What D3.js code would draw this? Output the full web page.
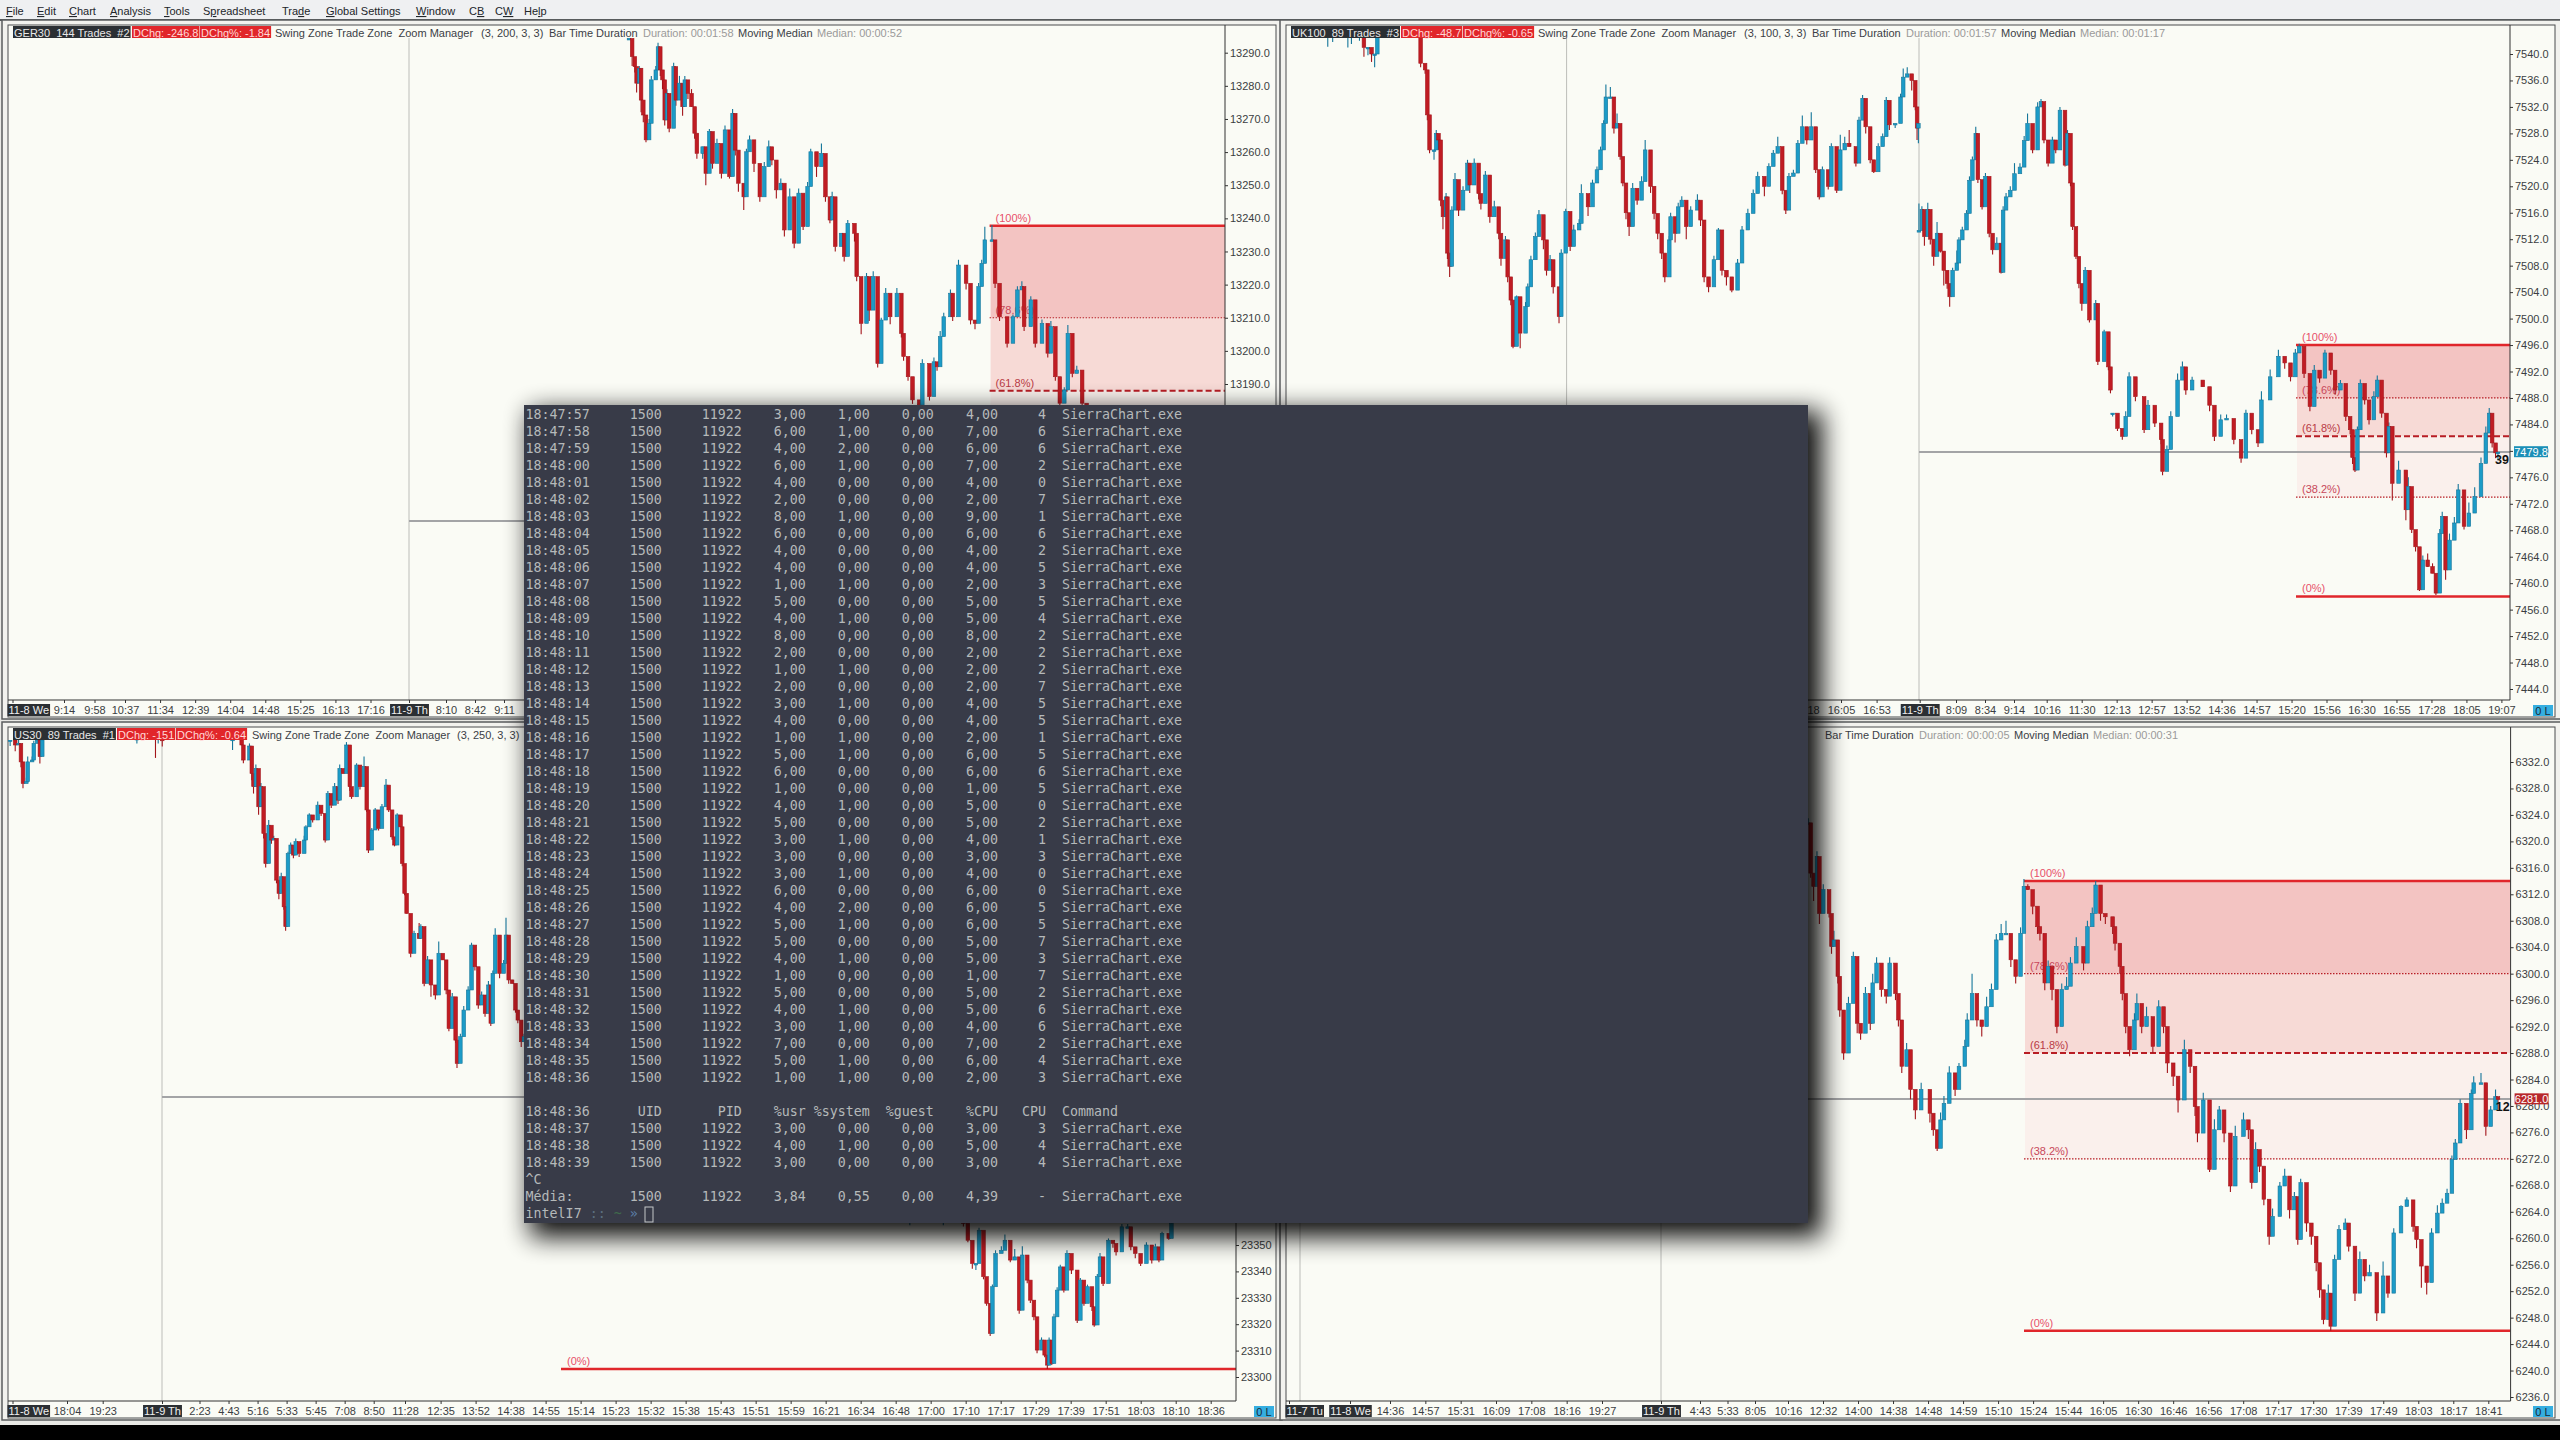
<!DOCTYPE html>
<html>
<head>
<meta charset="utf-8">
<script src="https://cdnjs.cloudflare.com/ajax/libs/d3/7.8.5/d3.min.js"></script>
<style>
html,body{margin:0;padding:0;background:#000}
svg{display:block}
text{font-family:"Liberation Sans",sans-serif;font-size:11px;white-space:pre}
.term text{font-family:"DejaVu Sans Mono",monospace;font-size:13.3px;white-space:pre}
</style>
</head>
<body>
<div id="chart"></div>
<script>
// candle rows are [bar, close, wick tip]; open is always the previous close
const menuItems = ["File","Edit","Chart","Analysis","Tools","Spreadsheet","Trade","Global Settings","Window","CB","CW","Help"];
const menuKeys = [0,0,0,0,0,1,3,0,0,1,1,2];

const gerTicks = [13290,13280,13270,13260,13250,13240,13230,13220,13210,13200,13190];
const gerFib = [["(100%)",13237.8],["(78.6%)",13210],["(61.8%)",13188]];
const gerTimes = ["11-8 We","9:14","9:58","10:37","11:34","12:39","14:04","14:48","15:25","16:13","17:16","11-9 Th","8:10","8:42","9:11"];
const gerBars = [[65,13294.3,13296],[72,13288.8,13286],[78,13285.8,13284],[82,13280.8,13278],[88,13285.3,13286],[92,13275.7,13272],[97,13271.2,13269],[103,13263.7,13263],[110,13268.7,13270],[115,13281.8,13283],[125,13284.8,13286],[130,13291.8,13293],[135,13284.8,13283],[140,13281.8,13279],[145,13269.7,13268],[150,13277.7,13279],[155,13267.2,13266],[165,13285.8,13287],[170,13275.7,13274],[178,13280.8,13283],[185,13273.7,13271],[190,13281.8,13283],[197,13277.7,13276],[205,13273.7,13279],[212,13265.7,13264],[217,13259.6,13258],[230,13261.6,13258],[237,13253.6,13250],[245,13266.2,13267],[252,13256.6,13255],[262,13262.6,13264],[272,13253.6,13252],[280,13266.7,13268],[290,13252.6,13252],[297,13271.7,13273],[303,13260.6,13259],[310,13250.6,13248],[322,13246.5,13242.5],[328,13260.1,13261],[335,13263.7,13265],[345,13256.6,13254],[358,13246.5,13245],[368,13255.6,13257],[378,13261.6,13263.5],[385,13257.6,13256],[395,13248.6,13246],[405,13250.6,13252],[413,13236.5,13234.5],[425,13246.5,13249],[435,13232.5,13231],[445,13247.6,13249],[455,13237.5,13236.5],[465,13249.6,13251],[472,13260.1,13261],[485,13255.6,13252.5],[496,13259.6,13262.6],[505,13246.5,13245],[515,13239.5,13238.5],[520,13246.5,13248],[527,13231.5,13230],[540,13235.5,13234],[547,13228.5,13227],[555,13238.5,13239.5],[570,13235.5,13233],[575,13222.4,13221],[585,13208.3,13205],[597,13222.4,13223.5],[603,13212.3,13209],[612,13222.4,13224],[622,13196.2,13195],[630,13209.3,13210],[640,13217.4,13219],[650,13210.3,13208],[665,13217.4,13219],[675,13205.3,13204],[680,13198.3,13197],[690,13192.2,13191],[700,13185.2,13184],[715,13183.7,13182],[722,13196.2,13197.5],[738,13186.2,13185],[748,13196.7,13198],[755,13195.2,13194],[762,13204.3,13206],[770,13210.3,13211.5],[785,13217.4,13218.5],[790,13210.3,13209],[803,13225.9,13227.5],[820,13220.4,13218.5],[830,13209.3,13208],[840,13208.3,13206.5],[848,13219.4,13220.5],[855,13226.4,13227.5],[862,13233.5,13237.5],[878,13233.5,13238],[885,13220.4,13219],[895,13210.3,13209],[912,13202.3,13201],[925,13210.3,13211],[935,13218.4,13219.5],[945,13219.4,13221],[950,13207.3,13206],[965,13215.4,13216.5],[975,13202.3,13201],[990,13208.3,13209.5],[1003,13199.3,13198],[1010,13207.3,13209],[1020,13192.2,13191],[1030,13184.2,13183],[1040,13188.2,13189],[1048,13205.3,13207.8],[1058,13193.2,13192],[1068,13194.2,13195.5],[1080,13184.2,13183],[1090,13183.7,13182]];

const ukTicks = [7540,7536,7532,7528,7524,7520,7516,7512,7508,7504,7500,7496,7492,7488,7484,7480,7476,7472,7468,7464,7460,7456,7452,7448,7444];
const ukFib = [["(100%)",7496],["(78.6%)",7488],["(61.8%)",7482.2],["(38.2%)",7473],["(0%)",7458]];
const ukTimes = ["15:18","16:05","16:53","11-9 Th","8:09","8:34","9:14","10:16","11:30","12:13","12:57","13:52","14:36","14:57","15:20","15:56","16:30","16:55","17:28","18:05","19:07"];
const ukBarsA = [[107,7543,7541.1],[118,7543,7541.8],[152,7543,7541],[160,7543,7541.5],[178,7543,7542],[188,7541,7539.6],[197,7541,7539.8],[205,7540,7538.8],[212,7540,7538],[218,7544,7542],[222,7545,7542.5],[310,7543,7543],[315,7538.6,7538],[325,7537.6,7537],[330,7530.8,7530],[335,7525.5,7525],[345,7525.5,7524],[350,7528,7528.5],[355,7527,7525.5],[360,7517.9,7517],[365,7515.4,7513.5],[372,7518.4,7519],[375,7509.9,7509],[380,7507.9,7506.3],[385,7516.4,7517],[392,7521,7522],[400,7516.4,7515.5],[410,7519.4,7520],[420,7523.5,7524],[425,7520.2,7519],[435,7523.5,7524.2],[445,7518.9,7518],[450,7517.4,7516.5],[460,7521.7,7522.3],[470,7515.4,7514.5],[480,7516.9,7517.8],[490,7512.9,7512],[495,7509.1,7508],[505,7511.9,7512.5],[510,7506.3,7505.5],[517,7502.8,7502],[522,7495.8,7495.5],[530,7503.3,7503.5],[538,7497.8,7495.5],[550,7501.8,7502.5],[555,7504.8,7505.3],[562,7508.9,7509.5],[572,7512.4,7513],[580,7515.7,7516.4],[590,7511.9,7510.5],[597,7507.3,7506.5],[605,7508.9,7509.6],[612,7504.8,7503.8],[625,7500.3,7499.3],[630,7509.9,7510.5],[640,7516.2,7516.6],[650,7510.9,7510.2],[658,7513.4,7514.2],[670,7514.4,7515],[675,7518.9,7520.3],[690,7516.9,7515.5],[700,7520.5,7521],[710,7522.5,7523],[718,7525.5,7526],[725,7529.5,7530],[730,7533.5,7535.4],[740,7533.5,7535],[748,7528.8,7528],[755,7529.5,7531],[762,7524.5,7524],[768,7520.5,7520],[775,7516,7515],[782,7513.9,7512.5],[790,7519.7,7520.5],[800,7517.9,7517.2],[810,7520.7,7521.5],[818,7525.5,7527],[830,7520,7519],[838,7515.9,7515],[846,7512.9,7512],[855,7509.9,7509],[862,7506.3,7505.5],[872,7511.9,7512.5],[875,7515.4,7516],[885,7512.9,7511.5],[892,7516.9,7517.5],[900,7517.9,7518.5],[910,7513.9,7512],[920,7516.4,7517],[935,7517.9,7518.8],[942,7514.9,7514],[950,7506.3,7505.5],[960,7504.8,7504],[972,7508.9,7509.5],[982,7513.4,7513.7],[990,7507.3,7506.5],[1000,7506.3,7505],[1012,7504.3,7504],[1025,7508.4,7509],[1035,7513.4,7514],[1048,7515.9,7516.6],[1060,7518.9,7519.5],[1070,7521.5,7522.2],[1085,7520,7518.5],[1095,7523,7523.5],[1105,7525,7525.5],[1115,7526,7527.5],[1125,7519.4,7518.8],[1133,7516.4,7515.8],[1140,7521.5,7522],[1150,7522,7522.5],[1160,7526.5,7527],[1170,7529,7530.7],[1180,7527,7526.3],[1190,7529,7531.2],[1200,7522.5,7522],[1208,7518.4,7518],[1215,7522.5,7523],[1228,7520,7519.5],[1235,7526,7526.5],[1247,7519.4,7519],[1255,7525.5,7527.8],[1265,7526.5,7527.5],[1275,7526,7528.5],[1290,7523.5,7523],[1297,7530,7530.5],[1305,7533.3,7533.8],[1312,7529,7528],[1322,7524,7523.5],[1330,7522.2,7522],[1340,7526,7526.5],[1350,7527.5,7528],[1358,7533,7533.5],[1365,7529.3,7528.5],[1378,7529.5,7528.8],[1390,7533.5,7534],[1396,7536.5,7537.8],[1405,7537,7538],[1415,7536,7534.5],[1423,7532,7531.5],[1427,7528.8,7527],[1430,7529.5,7526.5]];
const ukBarsB = [[45,7513.3,7517.4],[52,7516.5,7517],[58,7512.4,7511],[66,7516.5,7517.5],[72,7512,7511.2],[80,7509.4,7508],[88,7512.9,7514.6],[96,7510.2,7510],[104,7507.3,7505],[112,7505.3,7504.5],[118,7503.3,7501.8],[125,7507.3,7507.7],[135,7508.4,7510.3],[140,7511.9,7512.3],[148,7513.4,7513.9],[158,7515.9,7516.4],[165,7520.9,7521.5],[172,7524,7524.5],[180,7528,7529],[185,7521,7520.5],[195,7516.9,7516.5],[203,7521.5,7522],[212,7512.9,7512.3],[220,7510.4,7509.7],[230,7511.4,7512.3],[240,7507,7506.8],[245,7516.4,7517],[252,7518.4,7519],[262,7519.4,7520],[272,7521.9,7523.5],[285,7522.9,7523.5],[295,7526.9,7527.6],[303,7529.5,7531],[315,7525.5,7525],[327,7532,7532.7],[335,7532.8,7533.2],[342,7527,7526.5],[352,7523.5,7523],[362,7527,7527.5],[370,7525.5,7525],[380,7531.5,7532],[392,7523.2,7523],[398,7528,7528.5],[405,7520.5,7520],[410,7513.9,7513.4],[418,7509.4,7509],[425,7505.3,7504.6],[432,7502.3,7501.2],[440,7507.3,7507.8],[450,7499.8,7499.4],[465,7502.3,7502.8],[470,7493.5,7493],[485,7498,7498.3],[495,7492.7,7492.2],[500,7489.2,7488.7]];
const ukBarsC = [[645,7485.7,7485.2],[655,7483.4,7483],[665,7482.2,7481.7],[672,7485.2,7486],[679,7491.2,7491.9],[692,7488.2,7487.5],[710,7483.2,7482.7],[718,7486.9,7487.7],[732,7484.2,7483.6],[745,7481.7,7481],[748,7476.9,7476.3],[757,7480.2,7480.8],[765,7485.2,7486],[779,7490.7,7491.7],[789,7492.7,7493.5],[796,7489.2,7488.5],[809,7490.7,7491.2],[831,7489.7,7490.5],[845,7486.9,7486],[855,7482.2,7481.5],[868,7484.7,7485.5],[880,7484.9,7485.5],[895,7481.7,7481],[910,7478.9,7478.2],[920,7485.7,7486.2],[932,7483.2,7482.5],[945,7481.2,7480.6],[952,7487.7,7489],[970,7491.2,7492.3],[987,7494.3,7495.3],[1000,7493.3,7492.4],[1012,7491.2,7490.5],[1022,7494.8,7495.4],[1030,7495.8,7496.2],[1040,7491.7,7491],[1052,7486.7,7486],[1061,7492.2,7493],[1072,7491,7490.3],[1083,7494.8,7495.3],[1095,7492.2,7491.5],[1104,7489.2,7488.5],[1115,7490.2,7490.7],[1126,7485.2,7484.5],[1135,7483.2,7482.5],[1140,7479,7478],[1145,7477.1,7476.8],[1150,7483.2,7483.7],[1156,7490.2,7490.8],[1165,7487.7,7487],[1174,7484.7,7484],[1184,7488.2,7489],[1191,7490.7,7491.4],[1200,7485.7,7485],[1210,7479.7,7479],[1215,7483.7,7484.3],[1222,7475.1,7472.5],[1235,7477.1,7478.5],[1250,7471.1,7469.5],[1255,7474.6,7476],[1262,7468.1,7467.6],[1270,7465.5,7464.8],[1278,7459,7458.8],[1285,7463.5,7464.2],[1295,7462.5,7464.5],[1305,7461.5,7463],[1312,7458.5,7458.2],[1320,7467.5,7468.2],[1325,7470.1,7470.8],[1332,7462,7460.5],[1340,7466.5,7467.5],[1350,7469.1,7470],[1358,7474.1,7475],[1370,7468.6,7468.1],[1380,7470.6,7472.2],[1392,7473.1,7474.5],[1405,7478.1,7479],[1415,7482.7,7483.7],[1422,7485.7,7486.5],[1428,7481.2,7480.5],[1435,7479.7,7478.9],[1440,7479.8,7478.6]];

const usTicks = [23350,23340,23330,23320,23310,23300];
const usFib = [["(0%)",23303]];
const usTimes = ["11-8 We","18:04","19:23","11-9 Th","2:23","4:43","5:16","5:33","5:45","7:08","8:50","11:28","12:35","13:52","14:38","14:55","15:14","15:23","15:32","15:38","15:43","15:51","15:59","16:21","16:34","16:48","17:00","17:10","17:17","17:29","17:39","17:51","18:03","18:10","18:36"];
const usBarsA = [[30,23541.3,23539],[45,23539.4,23537],[55,23540,23542],[62,23533,23531],[68,23524.8,23523],[78,23525.5,23527],[82,23533,23535],[95,23533.7,23535],[100,23540,23541],[110,23541.3,23542],[118,23535,23532.4],[125,23541.3,23542],[405,23545,23540],[460,23543,23534.5],[468,23545,23540],[480,23541,23538.8],[688,23545,23537.5],[715,23539.4,23541],[720,23533.7,23532.5],[738,23539,23540],[745,23528.6,23526],[750,23523.6,23521],[757,23530.5,23532],[765,23516,23513],[772,23523.6,23525],[780,23505.9,23504],[786,23494.5,23493],[795,23509,23511],[803,23503.4,23502],[810,23504,23505],[818,23488.2,23487],[825,23483.2,23481],[832,23489.5,23491],[840,23478.1,23477],[845,23470.6,23469],[852,23498.3,23499],[860,23501.5,23502.5],[868,23497.7,23496.5],[875,23502.8,23504],[885,23498.3,23497],[900,23503.4,23505],[905,23508.4,23509],[915,23512.9,23513.5],[925,23511,23510],[940,23516.6,23518],[950,23513.5,23512.5],[962,23503.4,23502.5],[970,23521,23522],[980,23516.6,23515.5],[990,23523.6,23525],[1000,23518.5,23517],[1005,23530.5,23532],[1015,23528.6,23530],[1025,23539.4,23540.5],[1035,23523.6,23522],[1040,23519.8,23519],[1055,23531.8,23532.5],[1065,23523.6,23522.5],[1077,23531.2,23535],[1085,23514.8,23514],[1090,23499.6,23498.5],[1100,23507.2,23508],[1110,23514.8,23515.5],[1120,23507.8,23507],[1130,23516,23517],[1142,23524.2,23526.5],[1150,23514.8,23514],[1160,23504.6,23503.5],[1167,23501.5,23501],[1175,23512.9,23513.5],[1185,23508.4,23510.5],[1190,23494.5,23493.5],[1197,23483.2,23482.5],[1203,23475.6,23477],[1215,23460.5,23459],[1225,23468,23469],[1240,23466.1,23472],[1245,23470.6,23471.5],[1255,23449.1,23448],[1265,23458,23459.5],[1275,23448.5,23444],[1288,23444.7,23443],[1298,23460.5,23465],[1310,23458,23459],[1320,23446.6,23445],[1328,23432,23431],[1338,23444,23445.5],[1348,23427.6,23426.5],[1352,23418.8,23417],[1362,23428.9,23430],[1372,23439,23440.5],[1385,23446.6,23448],[1395,23463.6,23464.5],[1405,23455.4,23454],[1415,23440.9,23439.5],[1425,23444.7,23446],[1435,23437.7,23436.5],[1445,23448.5,23450],[1452,23434,23433],[1458,23452.9,23454],[1465,23467.4,23470],[1478,23452.9,23451],[1490,23456.7,23458],[1497,23467.4,23474],[1505,23450.4,23449],[1515,23449.1,23450.5],[1525,23439,23438],[1532,23435.2,23434],[1542,23427,23425],[1550,23428.9,23430]];
const usBarsB = [[470,23370,23357.5],[545,23370,23357.5],[590,23358.2,23357],[600,23351.8,23351],[610,23343,23341],[618,23343,23340.5],[625,23355.6,23356.5],[635,23338,23337],[642,23327.9,23327],[650,23316.5,23315.5],[655,23334.2,23335],[662,23346.8,23348],[675,23348,23349.5],[683,23351.8,23354],[695,23344.3,23343.5],[705,23345.5,23348.5],[715,23325.3,23324],[722,23346.2,23349.5],[733,23336.7,23335.5],[740,23329.1,23328],[748,23322.8,23321.5],[755,23310.2,23309],[765,23314,23315],[772,23308.3,23307.5],[778,23304.5,23303],[782,23314,23315],[788,23305.1,23304.5],[793,23322.8,23324],[800,23332.9,23334],[807,23341.7,23342.5],[815,23332.9,23332],[822,23346.8,23348],[832,23340.5,23339],[845,23321.5,23320.5],[852,23336.7,23337.5],[860,23327.9,23327],[868,23334.2,23335],[878,23326.6,23325],[883,23319.7,23319],[890,23338,23339],[896,23345.5,23347],[903,23335.4,23334.5],[915,23351.8,23352.5],[925,23350.6,23349],[932,23347.4,23346],[945,23356.9,23358],[958,23356.9,23358],[965,23349.3,23348],[975,23346.8,23345],[987,23343,23342],[1000,23350,23351],[1012,23344.3,23343],[1020,23349.3,23350.5],[1028,23344.3,23343.5],[1035,23354.4,23355],[1050,23352.5,23352],[1056,23358.2,23359]];

const ftseTicks = [6332,6328,6324,6320,6316,6312,6308,6304,6300,6296,6292,6288,6284,6280,6276,6272,6268,6264,6260,6256,6252,6248,6244,6240,6236];
const ftseFib = [["(100%)",6314],["(78.6%)",6300],["(61.8%)",6288],["(38.2%)",6272],["(0%)",6246]];
const ftseTimes = ["11-7 Tu","11-8 We","14:36","14:57","15:31","16:09","17:08","18:16","19:27","11-9 Th","4:43","5:33","8:05","10:16","12:32","14:00","14:38","14:48","14:59","15:10","15:24","15:44","16:05","16:30","16:46","16:56","17:08","17:17","17:30","17:39","17:49","18:03","18:17","18:41"];
const ftseBars = [[17,6322.8,6323.5],[22,6315.2,6314.5],[28,6313.2,6311],[35,6317.7,6318.5],[40,6309.1,6307.5],[48,6312.7,6313.5],[60,6309.1,6308.5],[65,6304.1,6303],[70,6305.1,6306.5],[78,6299.6,6298.5],[82,6294.5,6293.5],[90,6288,6287],[100,6295.5,6296.5],[110,6302.6,6303.3],[118,6292.5,6291],[125,6291,6290],[135,6297,6298],[145,6292.5,6291.5],[150,6298.6,6300],[158,6301.6,6302.5],[168,6297.6,6296.5],[178,6296.6,6295.5],[185,6301.6,6302.5],[197,6297,6296],[203,6293,6292],[210,6286,6285],[220,6288.5,6289.5],[228,6282.5,6281],[238,6279.4,6278],[250,6282.5,6283.5],[268,6278.9,6277.5],[275,6276.4,6275.5],[283,6273.6,6273.2],[290,6277.9,6279],[297,6280.4,6281.5],[308,6285,6286],[320,6282.5,6281.5],[328,6286,6286.5],[340,6289,6290],[345,6293,6294],[355,6297,6300],[365,6293,6292],[375,6292,6290.5],[385,6295,6296.5],[395,6297.6,6298.5],[405,6305.1,6306],[415,6306.1,6307.5],[425,6306.1,6308],[435,6302.1,6301],[445,6299.6,6298.5],[455,6306.1,6307],[462,6313.2,6314.3],[470,6312.7,6313.5],[480,6310.2,6309],[490,6307.1,6306],[495,6306.1,6305],[505,6298.6,6297.5],[512,6301.1,6302],[520,6297.6,6296],[530,6292,6291],[540,6297.6,6298.5],[550,6298.1,6299.5],[558,6301.6,6302.5],[570,6304.1,6305.5],[585,6301.6,6300.5],[593,6307.1,6308],[603,6309.1,6310],[610,6313.4,6314],[620,6309.1,6308],[630,6308.6,6307.5],[645,6307.1,6306],[650,6304.6,6303.5],[660,6301.1,6300],[665,6297,6296],[672,6292,6291],[680,6288.5,6287.5],[690,6293,6294],[695,6295.5,6297],[705,6292,6291],[715,6293.5,6295],[728,6289,6288],[740,6295,6296],[750,6292,6291],[758,6286.5,6285],[770,6284.5,6283],[780,6280.9,6279],[793,6288.5,6290],[805,6286,6285],[815,6279.9,6278.5],[820,6275.9,6274.5],[832,6280.9,6282],[845,6270.4,6270],[855,6276.4,6278],[865,6279.4,6280],[875,6275.9,6274.5],[888,6267.9,6267],[898,6275.4,6277],[915,6277.9,6279],[925,6276.4,6275],[932,6268.4,6267.5],[940,6273.4,6274.5],[948,6270.9,6270],[957,6265.9,6265],[968,6260.3,6259],[975,6263.3,6264.5],[990,6267.9,6268.5],[1000,6269.4,6270.5],[1010,6264.3,6263],[1020,6266.3,6267],[1027,6259.8,6259],[1033,6268.4,6269],[1045,6262.3,6261],[1055,6260.3,6259],[1065,6256.3,6255],[1072,6252.2,6251],[1080,6247.7,6247],[1090,6251.7,6253],[1095,6246.7,6246],[1103,6256.8,6257.5],[1112,6261.3,6262],[1125,6262.3,6263],[1132,6258.8,6258],[1145,6251.7,6250.5],[1155,6256.8,6258],[1165,6254.3,6253.5],[1175,6254.8,6256],[1190,6248.7,6247.5],[1203,6254.3,6256.5],[1213,6251.7,6251],[1225,6260.8,6261.5],[1240,6264.8,6265],[1252,6265.8,6266.2],[1265,6261.8,6261],[1272,6259.8,6258.5],[1282,6255.8,6252.5],[1293,6253.3,6251.5],[1303,6260.8,6261.5],[1315,6263.8,6265],[1325,6265.3,6266],[1335,6266.8,6267.5],[1345,6271.9,6272.5],[1352,6274.4,6275],[1362,6280.4,6281],[1375,6276.4,6275],[1385,6281.9,6282.5],[1390,6283.5,6284.5],[1405,6283.5,6285],[1415,6276.9,6275.5],[1425,6279.4,6280],[1435,6281.4,6282.5],[1440,6281,6279.5]];

// pidstat output: time, %usr, %system, %CPU, core
const cpuTimes = ["18:47:57","18:47:58","18:47:59","18:48:00","18:48:01","18:48:02","18:48:03","18:48:04","18:48:05","18:48:06","18:48:07","18:48:08","18:48:09","18:48:10","18:48:11","18:48:12","18:48:13","18:48:14","18:48:15","18:48:16","18:48:17","18:48:18","18:48:19","18:48:20","18:48:21","18:48:22","18:48:23","18:48:24","18:48:25","18:48:26","18:48:27","18:48:28","18:48:29","18:48:30","18:48:31","18:48:32","18:48:33","18:48:34","18:48:35","18:48:36"];
const cpuUsr = [3,6,4,6,4,2,8,6,4,4,1,5,4,8,2,1,2,3,4,1,5,6,1,4,5,3,3,3,6,4,5,5,4,1,5,4,3,7,5,1];
const cpuSys = [1,1,2,1,0,0,1,0,0,0,1,0,1,0,0,1,0,1,0,1,1,0,0,1,0,1,0,1,0,2,1,0,1,0,0,1,1,0,1,1];
const cpuTot = [4,7,6,7,4,2,9,6,4,4,2,5,5,8,2,2,2,4,4,2,6,6,1,5,5,4,3,4,6,6,6,5,5,1,5,5,4,7,6,2];
const cpuCore = [4,6,6,2,0,7,1,6,2,5,3,5,4,2,2,2,7,5,5,1,5,6,5,0,2,1,3,0,0,5,5,7,3,7,2,6,6,2,4,3];
const cpuTimes2 = ["18:48:37","18:48:38","18:48:39"];
const cpuUsr2 = [3,4,3];
const cpuSys2 = [0,1,0];
const cpuTot2 = [3,5,3];
const cpuCore2 = [3,4,4];

const width = 2560, height = 1440;
const svg = d3.select("#chart").append("svg").attr("width", width).attr("height", height);
svg.append("rect").attr("width", width).attr("height", height).attr("fill", "#000");
svg.append("rect").attr("width", width).attr("y", 0).attr("height", 1425).attr("fill", "#e9e9e5");
svg.append("rect").attr("width", width).attr("height", 19).attr("fill", "#eff0f2");
svg.append("rect").attr("width", width).attr("y", 19).attr("height", 2).attr("fill", "#55585c");

// menu bar
const menuX = [6,37,69,110,164,203,282,326,416,469,495,524];
menuItems.forEach(function(m, i) {
  const t = svg.append("text").attr("x", menuX[i]).attr("y", 15).attr("fill", "#22262a");
  t.append("tspan").text(m.slice(0, menuKeys[i]));
  t.append("tspan").attr("text-decoration", "underline").text(m[menuKeys[i]]);
  t.append("tspan").text(m.slice(menuKeys[i] + 1));
});

const red = "#c01c23", blue = "#1c9bc7";
const redEdge = "#a3151b", blueEdge = "#15769a";
const fibFill = {"(100%)":"#f3c4c2","(78.6%)":"#f7dad6","(61.8%)":"#faf0ec"};
const levelStyle = {
  "(100%)":{c:"#e0262b",w:2.5,d:null,l:"#e8506a"},
  "(78.6%)":{c:"#b81d24",w:1.2,d:"1.5,1.5",l:"#c8485a"},
  "(61.8%)":{c:"#b81d24",w:2,d:"6,3",l:"#b83b45"},
  "(38.2%)":{c:"#b81d24",w:1.2,d:"1.5,1.5",l:"#c8485a"},
  "(0%)":{c:"#e0262b",w:2.5,d:null,l:"#e8506a"}
};

function drawPanel(p) {
  const g = svg.append("g");
  // frame
  g.append("rect").attr("x", p.left - 6).attr("y", p.top - 5).attr("width", p.right - p.left + 10).attr("height", p.bottom - p.top + 24)
    .attr("fill", "#f2f2ee").attr("stroke", "#5a5c5e").attr("stroke-width", 1.5);
  g.append("rect").attr("x", p.left).attr("y", p.top).attr("width", p.right - p.left - 2).attr("height", p.bottom - p.top + 17)
    .attr("fill", "#fafbf5").attr("stroke", "#4a4c4e").attr("stroke-width", 1);

  const clipId = "clip" + p.id;
  g.append("clipPath").attr("id", clipId).append("rect")
    .attr("x", p.left).attr("y", p.top + 13).attr("width", p.axisX - p.left).attr("height", p.bottom - p.top - 13);
  const body = g.append("g").attr("clip-path", "url(#" + clipId + ")");

  // fib zone
  p.fib.forEach(function(f, i) {
    const next = p.fib[i + 1];
    if (next && fibFill[f[0]]) {
      body.append("rect").attr("x", p.zoneX).attr("width", p.axisX - p.zoneX)
        .attr("y", p.y(f[1])).attr("height", p.y(next[1]) - p.y(f[1])).attr("fill", fibFill[f[0]]);
    }
  });
  if (p.fib.length == 3) {
    body.append("rect").attr("x", p.zoneX).attr("width", p.axisX - p.zoneX)
      .attr("y", p.y(p.fib[2][1])).attr("height", 60).attr("fill", fibFill["(61.8%)"]);
  }

  // crosshair and session lines
  p.sessionX.forEach(function(x) {
    body.append("line").attr("x1", x).attr("x2", x).attr("y1", p.top).attr("y2", p.bottom).attr("stroke", "#bcbdb9");
  });
  body.append("line").attr("x1", p.crossX).attr("x2", p.axisX).attr("y1", p.crossY).attr("y2", p.crossY)
    .attr("stroke", "#a3a4a6").attr("stroke-width", 2);

  p.fib.forEach(function(f) {
    const s = levelStyle[f[0]];
    body.append("line").attr("x1", p.zoneX - 1).attr("x2", p.axisX).attr("y1", p.y(f[1])).attr("y2", p.y(f[1]))
      .attr("stroke", s.c).attr("stroke-width", s.w).attr("stroke-dasharray", s.d);
    body.append("text").attr("x", p.zoneX + 5).attr("y", p.y(f[1]) - 4).attr("fill", s.l).text(f[0]);
  });

  // candles
  p.series.forEach(function(s) {
    const bars = s.rows.map(function(r, i) {
      return {bar:r[0], close:r[1], tip:r[2], open:i ? s.rows[i - 1][1] : r[1]};
    });
    const col = function(d) { return d.close < d.open ? red : blue; };
    const edge = function(d) { return d.close < d.open ? redEdge : blueEdge; };
    body.append("g").selectAll("line").data(bars).join("line")
      .attr("x1", d => s.x(d.bar)).attr("x2", d => s.x(d.bar))
      .attr("y1", d => p.y(d.tip)).attr("y2", d => p.y(d.close))
      .attr("stroke", edge).attr("stroke-width", 1.1);
    body.append("g").selectAll("rect").data(bars).join("rect")
      .attr("x", d => s.x(d.bar) - 1.8).attr("width", 3.6)
      .attr("y", d => Math.min(p.y(d.open), p.y(d.close)))
      .attr("height", d => Math.max(1.5, Math.abs(p.y(d.open) - p.y(d.close))))
      .attr("fill", col).attr("stroke", edge).attr("stroke-width", 0.6);
  });

  // axes
  const yAxis = g.append("g").attr("transform", "translate(" + p.axisX + ",0)")
    .call(d3.axisRight(p.y).tickValues(p.ticks).tickFormat(d3.format(p.priceFormat)).tickSize(3).tickPadding(2));
  yAxis.select(".domain").remove();
  yAxis.selectAll("text").attr("fill", "#3a3e42").style("font-size", "11px").style("font-family", "Liberation Sans");
  yAxis.selectAll("line").attr("stroke", "#333");
  g.append("line").attr("x1", p.axisX).attr("x2", p.axisX).attr("y1", p.top).attr("y2", p.bottom).attr("stroke", "#333");
  g.append("line").attr("x1", p.left).attr("x2", p.axisX).attr("y1", p.bottom).attr("y2", p.bottom).attr("stroke", "#333");

  const xAxis = g.append("g").attr("transform", "translate(0," + p.bottom + ")")
    .call(d3.axisBottom(p.time).tickValues(d3.range(p.times.length)).tickFormat(i => p.times[i]).tickSize(3).tickPadding(3));
  xAxis.select(".domain").remove();
  xAxis.selectAll("line").attr("stroke", "#333");
  xAxis.selectAll("text").attr("fill", "#3a3e42").style("font-size", "11px").style("font-family", "Liberation Sans");
  xAxis.selectAll("text").each(function(i) {
    const label = p.times[i];
    if (label.length < 7) return;
    const el = d3.select(this);
    const w = this.getComputedTextLength();
    const tickX = p.time(i);
    const shift = Math.max(0, p.left - (tickX - w / 2));
    el.attr("x", shift).attr("fill", "#f0f0f0");
    d3.select(this.parentNode).insert("rect", "text")
      .attr("x", shift - w / 2 - 1).attr("y", 4).attr("width", w + 2).attr("height", 12).attr("fill", "#2b2f33");
  });

  // status box at the right of the time axis
  g.append("rect").attr("x", p.right - 24).attr("y", p.bottom + 5).attr("width", 20).attr("height", 11).attr("fill", "#35aee0");
  g.append("text").attr("x", p.right - 14).attr("y", p.bottom + 14.5).attr("text-anchor", "middle").attr("fill", "#1a2a34").text("0 L");

  // last price tag
  if (p.lastPrice) {
    g.append("rect").attr("x", p.axisX + 4).attr("y", p.y(p.lastPrice) - 6).attr("width", 34).attr("height", 11).attr("fill", p.lastColor);
    g.append("text").attr("x", p.axisX + 21).attr("y", p.y(p.lastPrice) + 4).attr("text-anchor", "middle").attr("fill", "#fff").text(d3.format(".1f")(p.lastPrice));
    g.append("text").attr("x", p.axisX - 1).attr("y", p.y(p.lastPrice) + 12).attr("text-anchor", "end")
      .attr("fill", "#111").style("font-weight", "bold").style("font-size", "12.5px").text(p.counter);
  }

  // header line
  const hy = p.top + 11.5;
  p.header.forEach(function(h) {
    const t = g.append("text").attr("x", h.x).attr("y", hy).attr("fill", h.fill).text(h.text);
    if (h.box) {
      const w = t.node().getComputedTextLength();
      g.insert("rect", function() { return t.node(); })
        .attr("x", h.x - 1).attr("y", p.top + 1).attr("width", w + 2).attr("height", 12).attr("fill", h.box);
    }
  });
}

function headerRow(items) {
  return items.map(function(a) {
    const styles = {
      name:{fill:"#e8e8e8", box:"#2b2f33"},
      chg:{fill:"#ffd8d8", box:"#e1262a"},
      ind:{fill:"#3a3e46"},
      val:{fill:"#9a9a9a"}
    };
    return Object.assign({text:a[0], x:a[1]}, styles[a[2]]);
  });
}

const gerY = d3.scaleLinear().domain([13290, 13190]).range([52.7, 384]);
const gerWindow = d3.scaleLinear().domain([0, 1568]).range([600, 1300]);
drawPanel({
  id:"ger", left:8, right:1278, top:25, bottom:700, axisX:1225, zoneX:990.6,
  y:gerY, ticks:gerTicks, priceFormat:".1f", fib:gerFib,
  series:[{rows:gerBars, x:gerWindow}],
  time:d3.scaleLinear().domain([0,1,3,10,11,12,14]).range([12.5,64,125,370.5,409,446,504]), times:gerTimes,
  sessionX:[409], crossX:409, crossY:521,
  header:headerRow([["GER30  144 Trades  #2",14,"name"],["DChg: -246.8",133,"chg"],["DChg%: -1.84",201,"chg"],["Swing Zone Trade Zone  Zoom Manager",275,"ind"],["(3, 200, 3, 3)",481,"ind"],["Bar Time Duration",549,"ind"],["Duration: 00:01:58",643,"val"],["Moving Median",738,"ind"],["Median: 00:00:52",817,"val"]])
});

const ukY = d3.scaleLinear().domain([7540, 7444]).range([54, 689]);
drawPanel({
  id:"uk", left:1286, right:2557, top:25, bottom:700, axisX:2510, zoneX:2297,
  y:ukY, ticks:ukTicks, priceFormat:".1f", fib:ukFib,
  series:[
    {rows:ukBarsA, x:d3.scaleLinear().domain([0, 1568]).range([1280, 1980])},
    {rows:ukBarsB, x:d3.scaleLinear().domain([0, 1568]).range([1900, 2560])},
    {rows:ukBarsC, x:d3.scaleLinear().domain([0, 1568]).range([1800, 2560])}
  ],
  time:d3.scaleLinear().domain([1,2,3,4,6,7,20]).range([1841,1876.6,1919.7,1956,2014,2046.7,2501.4]), times:ukTimes,
  sessionX:[1566.6,1919], crossX:1919, crossY:452,
  lastPrice:7479.8, lastColor:"#1b8fb7", counter:"39",
  header:headerRow([["UK100  89 Trades  #3",1292,"name"],["DChg: -48.7",1402,"chg"],["DChg%: -0.65",1464,"chg"],["Swing Zone Trade Zone  Zoom Manager",1538,"ind"],["(3, 100, 3, 3)",1744,"ind"],["Bar Time Duration",1812,"ind"],["Duration: 00:01:57",1906,"val"],["Moving Median",2001,"ind"],["Median: 00:01:17",2080,"val"]])
});

const usY = d3.scaleLinear().domain([23350, 23300]).range([1245, 1377]);
drawPanel({
  id:"us", left:8, right:1278, top:727, bottom:1401, axisX:1236, zoneX:562,
  y:usY, ticks:usTicks, priceFormat:".0f", fib:usFib,
  series:[
    {rows:usBarsA, x:d3.scaleLinear().domain([0, 1568]).range([0, 530])},
    {rows:usBarsB, x:d3.scaleLinear().domain([0, 1568]).range([700, 1400])}
  ],
  time:d3.scaleLinear().domain([0,1,2,3,4,10,11,12,34]).range([12.5,67,102.7,162,199.5,373.7,405,440.6,1210.7]), times:usTimes,
  sessionX:[162], crossX:162, crossY:1097,
  header:headerRow([["US30  89 Trades  #1",14,"name"],["DChg: -151",118,"chg"],["DChg%: -0.64",177,"chg"],["Swing Zone Trade Zone  Zoom Manager",252,"ind"],["(3, 250, 3, 3)",457,"ind"]])
});

const ftseY = d3.scaleLinear().domain([6332, 6236]).range([762, 1397]);
drawPanel({
  id:"ftse", left:1286, right:2557, top:727, bottom:1401, axisX:2510.6, zoneX:2025,
  y:ftseY, ticks:ftseTicks, priceFormat:".1f", fib:ftseFib,
  series:[{rows:ftseBars, x:d3.scaleLinear().domain([0, 1568]).range([1800, 2560])}],
  time:d3.scaleLinear().domain([0,1,2,8,9,10,12,13,14,33]).range([1289,1350,1390,1602,1661,1700,1755,1788,1823,2488.3]), times:ftseTimes,
  sessionX:[1300,1661], crossX:1661, crossY:1099,
  lastPrice:6281, lastColor:"#b8282a", counter:"12",
  header:headerRow([["Bar Time Duration",1825,"ind"],["Duration: 00:00:05",1919,"val"],["Moving Median",2014,"ind"],["Median: 00:00:31",2093,"val"]])
});

// terminal window on top of everything
const defs = svg.append("defs");
const blur = defs.append("filter").attr("id", "shadow").attr("x", "-15%").attr("y", "-15%").attr("width", "130%").attr("height", "130%");
blur.append("feGaussianBlur").attr("stdDeviation", 13);
svg.append("rect").attr("x", 530).attr("y", 411).attr("width", 1292).attr("height", 826)
  .attr("fill", "#000").attr("opacity", 0.95).attr("filter", "url(#shadow)");

const term = svg.append("g").attr("class", "term");
term.append("rect").attr("x", 524).attr("y", 405).attr("width", 1284).attr("height", 818).attr("fill", "#383b48");

const fix = v => d3.format(".2f")(v).replace(".", ",");
function pidLine(t, u, s, c, k) {
  return t + "     1500     11922    " + fix(u) + "    " + fix(s) + "    " + fix(0) + "    " + fix(c) + "     " + k + "  SierraChart.exe";
}
const termLines = cpuTimes.map(function(t, i) { return pidLine(t, cpuUsr[i], cpuSys[i], cpuTot[i], cpuCore[i]); });
termLines.push("");
termLines.push("18:48:36      UID       PID    %usr %system  %guest    %CPU   CPU  Command");
cpuTimes2.forEach(function(t, i) { termLines.push(pidLine(t, cpuUsr2[i], cpuSys2[i], cpuTot2[i], cpuCore2[i])); });
termLines.push("^C");
termLines.push("Média:       1500     11922    3,84    0,55    0,00    4,39     -  SierraChart.exe");

const lineY = d3.scaleLinear().domain([0, 47]).range([419, 1218]);
term.selectAll("text.l").data(termLines).join("text").attr("class", "l")
  .attr("x", 525.6).attr("y", (d, i) => lineY(i)).attr("fill", "#b5b9ba").text(d => d);

const prompt = term.append("text").attr("x", 525.6).attr("y", lineY(47));
prompt.append("tspan").attr("fill", "#b5b9ba").text("intelI7 ");
prompt.append("tspan").attr("fill", "#5c6f80").text(":: ");
prompt.append("tspan").attr("fill", "#3f6a4b").text("~ ");
prompt.append("tspan").attr("fill", "#5c7fa8").text("»");
term.append("rect").attr("x", 645).attr("y", 1207).attr("width", 8).attr("height", 15)
  .attr("fill", "none").attr("stroke", "#c4c8c8").attr("stroke-width", 1);
</script>
</body>
</html>
